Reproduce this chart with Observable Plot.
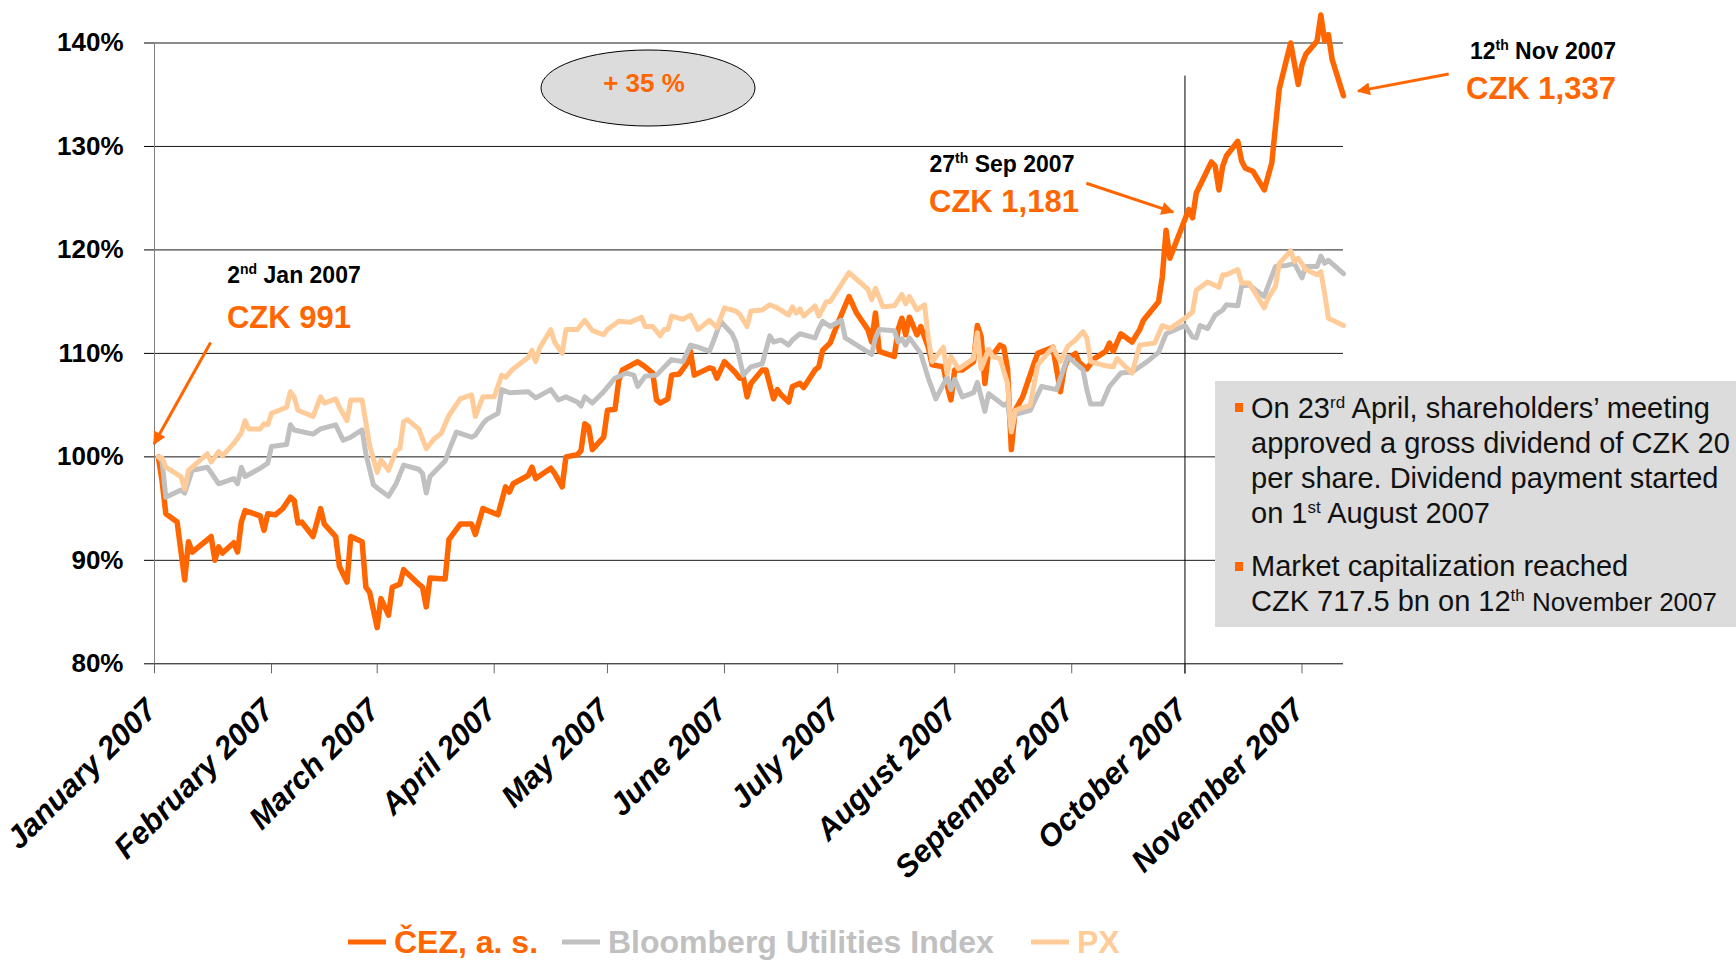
<!DOCTYPE html>
<html><head><meta charset="utf-8">
<script src="https://cdn.jsdelivr.net/npm/d3@7"></script>
<script src="https://cdn.jsdelivr.net/npm/@observablehq/plot@0.6"></script>
<style>
html,body{margin:0;padding:0;background:#fff;}
#chart{position:relative;width:1736px;height:960px;overflow:hidden;}
svg{font-family:"Liberation Sans",Arial,Helvetica,sans-serif;}
</style></head><body><div id="chart"></div>
<script>
// ---- axis categories ----
const monthTicks = ["01-01","02-01","03-01","04-01","05-01","06-01","07-01","08-01","09-01","10-01","11-01"];
const monthLabels = ["January 2007","February 2007","March 2007","April 2007","May 2007","June 2007","July 2007","August 2007","September 2007","October 2007","November 2007"];
const yTicks = [80,90,100,110,120,130,140];

// ---- ČEZ, a. s. (index, 2 Jan 2007 = 100%) ----
const cezDates = [
"01-02","01-03","01-04","01-07","01-09","01-10","01-11","01-16","01-17","01-18",
"01-19","01-22","01-23","01-24","01-25","01-29","01-30","01-31","02-02","02-04",
"02-06","02-07","02-08","02-09","02-12","02-14","02-15","02-18","02-19","02-21",
"02-22","02-25","02-26","02-27","03-01","03-02","03-04","03-05","03-07","03-08",
"03-12","03-13","03-14","03-15","03-19","03-20","03-23","03-26","03-27","03-29",
"04-02","04-04","04-05","04-06","04-10","04-11","04-12","04-16","04-17","04-19",
"04-20","04-23","04-24","04-25","04-26","04-27","04-30","05-01","05-03","05-04",
"05-05","05-09","05-11","05-13","05-14","05-15","05-17","05-18","05-20","05-22",
"05-23","05-24","05-28","05-29","05-30","06-01","06-04","06-05","06-06","06-07",
"06-08","06-11","06-12","06-14","06-15","06-16","06-18","06-19","06-21","06-22",
"06-25","06-26","06-27","06-29","07-01","07-04","07-06","07-09","07-10","07-11",
"07-12","07-16","07-17","07-18","07-19","07-20","07-22","07-23","07-25","07-26",
"07-29","07-30","07-31","08-01","08-03","08-06","08-07","08-08","08-09","08-10",
"08-11","08-13","08-14","08-15","08-16","08-17","08-19","08-22","08-23","08-27",
"08-29","08-30","08-31","09-02","09-03","09-05","09-07","09-10","09-11","09-12",
"09-14","09-17","09-19","09-20","09-24","09-25","09-26","09-27","10-02","10-03",
"10-04","10-08","10-09","10-10","10-11","10-12","10-15","10-16","10-17","10-19",
"10-22","10-24","10-26","10-29","10-31","11-01","11-02","11-05","11-06","11-07",
"11-08","11-09","11-12"];
const cezValues = [
100.0,97.7,94.5,93.7,88.1,91.8,90.8,92.3,90.0,91.3,
90.7,91.7,90.8,93.7,94.8,94.3,92.9,94.5,94.4,95.0,
96.1,95.8,93.6,93.7,92.3,95.0,93.5,92.3,89.4,87.9,
92.3,91.8,87.4,86.9,83.5,86.3,84.7,87.4,87.7,89.1,
87.7,87.4,85.5,88.3,88.2,92.0,93.5,93.5,92.5,95.0,
94.4,97.1,96.6,97.4,98.2,99.0,97.9,98.9,98.4,97.1,
100.0,100.2,100.6,103.2,102.9,100.7,101.9,104.5,104.6,107.4,
108.4,109.2,108.7,108.1,105.5,105.2,105.6,107.9,108.0,109.0,
110.2,107.9,108.6,108.5,107.6,109.2,108.1,107.6,107.7,105.8,
107.1,108.4,108.4,105.6,106.5,106.0,105.3,106.8,107.1,106.7,
108.4,108.7,110.3,111.0,112.9,115.5,113.9,112.3,111.1,113.9,
110.2,109.7,112.3,113.4,111.8,113.5,111.8,112.6,110.6,108.9,
108.7,106.9,105.5,108.4,108.4,109.2,112.7,111.6,107.1,110.3,
109.8,110.8,110.6,108.5,100.7,104.5,105.8,109.0,110.0,110.6,
106.3,108.5,109.5,110.0,109.1,108.5,109.5,110.2,111.0,110.2,
111.9,111.1,112.3,113.2,115.0,117.4,121.9,119.2,123.9,123.1,
125.5,128.5,128.1,125.8,128.1,129.1,130.5,128.6,127.9,127.6,
125.8,128.4,135.6,140.0,136.0,137.9,138.9,140.2,142.7,140.2,
140.8,138.4,134.9];

// ---- Bloomberg Utilities Index ----
const bbgDates = [
"01-02","01-03","01-04","01-08","01-09","01-11","01-15","01-18","01-22","01-23",
"01-24","01-25","01-29","01-31","02-01","02-05","02-06","02-07","02-12","02-14",
"02-18","02-20","02-22","02-25","02-26","02-28","03-01","03-04","03-06","03-08",
"03-12","03-13","03-14","03-15","03-19","03-20","03-22","03-26","03-27","03-29",
"03-30","04-02","04-03","04-05","04-10","04-12","04-16","04-18","04-20","04-23",
"04-24","04-25","04-27","04-30","05-03","05-06","05-08","05-09","05-11","05-14",
"05-18","05-21","05-23","05-25","05-28","05-29","05-31","06-03","06-04","06-06",
"06-08","06-11","06-13","06-14","06-16","06-18","06-19","06-21","06-25","06-26",
"06-27","06-29","07-02","07-03","07-10","07-11","07-12","07-16","07-17","07-18",
"07-19","07-20","07-23","07-25","07-27","07-30","07-31","08-01","08-03","08-06",
"08-07","08-09","08-10","08-14","08-15","08-16","08-17","08-21","08-24","08-28",
"08-29","08-31","09-04","09-05","09-06","09-09","09-11","09-14","09-17","09-21",
"09-24","09-26","10-01","10-03","10-04","10-05","10-07","10-09","10-11","10-12",
"10-15","10-16","10-18","10-22","10-23","10-25","10-28","10-30","11-01","11-02",
"11-05","11-06","11-07","11-08","11-12"];
const bbgValues = [
100.0,99.6,96.1,96.8,96.5,98.7,99.0,97.4,97.9,97.4,
99.0,98.1,98.9,99.4,101.0,101.2,103.1,102.6,102.2,102.7,
103.1,101.6,101.9,102.6,100.3,97.3,97.0,96.2,97.4,99.2,
98.8,98.4,96.5,98.1,99.6,100.6,102.4,101.9,102.1,103.2,
103.6,104.2,106.5,106.2,106.3,105.7,106.5,105.5,105.8,105.3,
104.9,105.8,105.2,106.3,107.6,108.1,107.9,106.8,107.8,107.9,
109.4,109.2,110.8,110.6,110.2,111.1,113.1,111.9,111.1,107.9,
108.7,109.0,111.7,111.1,111.3,110.8,111.3,111.9,111.5,112.4,
113.1,112.6,113.2,111.5,109.9,111.5,112.3,112.2,111.1,111.4,
110.8,111.5,110.0,107.6,105.6,107.7,106.5,107.5,105.8,106.2,
107.2,104.4,106.1,105.0,105.2,102.6,104.1,104.5,106.8,106.5,
107.6,109.7,108.4,106.5,105.1,105.1,106.8,108.1,108.2,109.2,
110.1,111.9,112.7,111.6,111.5,112.7,112.4,113.7,114.2,114.7,
114.6,116.5,116.6,115.5,116.5,118.4,118.5,118.7,117.3,118.4,
118.4,119.4,118.7,119.0,117.7];

// ---- PX index ----
const pxDates = [
"01-02","01-03","01-04","01-08","01-09","01-10","01-15","01-16","01-18","01-19",
"01-22","01-24","01-25","01-26","01-29","01-30","01-31","02-01","02-05","02-06",
"02-07","02-08","02-12","02-14","02-15","02-18","02-19","02-21","02-22","02-25",
"02-27","03-01","03-02","03-04","03-06","03-07","03-08","03-09","03-12","03-14",
"03-16","03-18","03-20","03-23","03-26","03-27","03-29","04-01","04-03","04-04",
"04-06","04-10","04-11","04-12","04-13","04-16","04-17","04-19","04-20","04-23",
"04-25","04-27","04-30","05-01","05-04","05-07","05-10","05-11","05-13","05-15",
"05-16","05-17","05-18","05-21","05-23","05-25","05-28","05-30","06-01","06-04",
"06-05","06-07","06-08","06-11","06-13","06-15","06-18","06-19","06-20","06-21",
"06-22","06-25","06-26","06-28","06-29","07-04","07-09","07-10","07-11","07-13",
"07-16","07-18","07-19","07-20","07-22","07-24","07-25","07-26","07-29","07-30",
"07-31","08-02","08-06","08-07","08-08","08-10","08-11","08-13","08-15","08-16",
"08-17","08-21","08-23","08-27","08-29","08-31","09-02","09-04","09-05","09-06",
"09-10","09-12","09-13","09-17","09-19","09-23","09-25","09-27","10-01","10-03",
"10-04","10-07","10-10","10-11","10-12","10-15","10-16","10-18","10-22","10-23",
"10-25","10-26","10-29","10-30","10-31","11-02","11-05","11-06","11-07","11-08",
"11-12"];
const pxValues = [
100.0,99.9,99.0,98.1,96.9,98.7,100.3,99.5,100.5,100.1,
101.3,102.3,103.5,102.7,102.7,103.2,103.1,104.2,104.8,106.3,
105.8,104.5,103.9,105.8,105.2,105.6,104.8,103.5,105.5,105.5,
101.1,98.5,99.7,98.7,100.6,100.8,103.4,103.6,102.7,100.8,
101.7,102.3,104.0,105.6,106.0,103.9,105.8,105.8,107.9,107.7,
108.5,109.6,110.3,109.2,110.5,112.3,111.1,110.0,112.3,112.3,
113.2,112.2,111.8,112.3,113.1,113.0,113.5,112.6,112.6,111.7,
112.3,112.3,113.6,113.3,113.7,112.3,113.2,112.5,114.4,114.1,
113.8,112.6,114.1,114.2,114.7,114.4,113.7,114.5,113.9,114.3,
113.6,114.6,113.6,115.0,115.0,117.8,116.2,115.2,116.3,114.5,
114.6,115.7,114.8,115.5,114.2,114.7,111.5,109.2,110.6,108.0,
109.7,108.5,109.5,112.0,108.5,110.4,109.7,109.5,107.1,102.4,
104.5,105.0,108.9,110.6,109.2,110.7,111.3,112.1,111.5,109.2,
108.8,108.7,109.5,108.1,110.8,111.0,112.7,112.4,113.4,114.0,
116.1,116.9,116.4,117.6,117.6,118.1,116.8,116.8,114.4,115.3,
116.5,118.7,119.9,118.9,119.2,118.1,117.6,117.9,115.8,113.4,
112.7];

// ---- series styling ----
const seriesNames = ["ČEZ, a. s.", "Bloomberg Utilities Index", "PX"];
const seriesColors = ["#FF6600", "#C0C0C0", "#FFCC99"];

const parse = s => new Date("2007-" + s + "T00:00:00Z");
function rows(dates, values) {
  if (dates.length !== values.length) console.error("length mismatch", dates.length, values.length);
  return dates.map((d, i) => ({date: parse(d), value: values[i]}));
}
const cez = rows(cezDates, cezValues);
const bbg = rows(bbgDates, bbgValues);
const px = rows(pxDates, pxValues);
const monthDates = monthTicks.map(parse);

const chart = Plot.plot({
  width: 1736, height: 960,
  marginLeft: 154, marginRight: 393, marginTop: 42.5, marginBottom: 296.7,
  x: {type: "utc", domain: [parse("01-01"), parse("11-12")], label: null},
  y: {domain: [80, 140], label: null},
  style: {fontFamily: '"Liberation Sans", Arial, sans-serif', background: "white", overflow: "visible", color: "black"},
  marks: [
    Plot.ruleY(yTicks.filter(v => v > 80), {stroke: "#1a1a1a", strokeWidth: 1}),
    Plot.axisY({ticks: yTicks, tickFormat: d => d + "%", tickSize: 10, tickPadding: 21,
      fontSize: 26, fontWeight: "bold", label: null}),
    Plot.ruleX([parse("01-01")], {y1: 80, y2: 140, stroke: "#808080"}),
    Plot.ruleY([80], {stroke: "#000"}),
    Plot.axisX({ticks: monthDates, tickSize: 10, tickFormat: () => "", stroke: "#666", label: null}),
    Plot.text(monthDates, {x: d => d, frameAnchor: "bottom", text: (d, i) => monthLabels[i],
      rotate: -45, textAnchor: "end", lineAnchor: "middle", dx: -3, dy: 41,
      fontSize: 31, fontWeight: "bold", fontStyle: "italic", fill: "#000"}),
    Plot.ruleX([parse("10-01")], {y1: 79.0, y2: 136.8, stroke: "#000"}),
    Plot.line(cez, {x: "date", y: "value", stroke: seriesColors[0], strokeWidth: 5.5, strokeLinejoin: "round"}),
    Plot.line(bbg, {x: "date", y: "value", stroke: seriesColors[1], strokeWidth: 5, strokeLinejoin: "round"}),
    Plot.line(px, {x: "date", y: "value", stroke: seriesColors[2], strokeWidth: 5, strokeLinejoin: "round"})
  ]
});
document.getElementById("chart").appendChild(chart);

// ---- annotations ----
const svg = d3.select(chart);
const sx = chart.scale("x"), sy = chart.scale("y");
const X = s => sx.apply(parse(s)), Y = v => sy.apply(v);

const defs = svg.append("defs");
defs.append("marker").attr("id", "ah").attr("viewBox", "0 0 10 10")
  .attr("refX", 9).attr("refY", 5).attr("markerWidth", 19).attr("markerHeight", 13)
  .attr("markerUnits", "userSpaceOnUse").attr("orient", "auto")
  .append("path").attr("d", "M0,0L10,5L0,10Z").attr("fill", "#FF6600");

const arrows = [
  {from: ["01-16", 111.0], to: ["01-01", 101.2]},
  {from: ["09-05", 126.4], to: ["09-28", 123.6]},
  {from: ["12-10", 136.95], to: ["11-16", 135.3]}
];
const ann = svg.append("g").attr("font-family", '"Liberation Sans", Arial, sans-serif');
arrows.forEach(a => {
  ann.append("line").attr("x1", X(a.from[0])).attr("y1", Y(a.from[1]))
    .attr("x2", X(a.to[0])).attr("y2", Y(a.to[1]))
    .attr("stroke", "#FF6600").attr("stroke-width", 3).attr("marker-end", "url(#ah)");
});

function txt(x, y, html, size, color, anchor = "start", weight = "bold") {
  ann.append("text").attr("x", x).attr("y", y).attr("font-size", size)
    .attr("fill", color).attr("font-weight", weight).attr("text-anchor", anchor).html(html);
}
// +35% ellipse
ann.append("ellipse").attr("cx", 648).attr("cy", 88).attr("rx", 107).attr("ry", 38)
  .attr("fill", "#DCDCDC").attr("stroke", "#000").attr("stroke-width", 1);
txt(644, 92, "+ 35 %", 26, "#FF6600", "middle");

txt(294, 283, '2<tspan dy="-9" font-size="14">nd</tspan><tspan dy="9"> Jan 2007</tspan>', 23, "#000", "middle");
txt(289, 328, "CZK 991", 31, "#FF6600", "middle");
txt(1002, 172, '27<tspan dy="-9" font-size="14">th</tspan><tspan dy="9"> Sep 2007</tspan>', 23, "#000", "middle");
txt(1004, 212, "CZK 1,181", 31, "#FF6600", "middle");
txt(1543, 59, '12<tspan dy="-9" font-size="14">th</tspan><tspan dy="9"> Nov 2007</tspan>', 23, "#000", "middle");
txt(1541, 99, "CZK 1,337", 31, "#FF6600", "middle");

// info box
ann.append("rect").attr("x", 1215).attr("y", 381).attr("width", 530).attr("height", 246).attr("fill", "#DCDCDC");
ann.append("rect").attr("x", 1235).attr("y", 403).attr("width", 8).attr("height", 9).attr("fill", "#FF6600");
ann.append("rect").attr("x", 1235).attr("y", 562).attr("width", 8).attr("height", 9).attr("fill", "#FF6600");
const boxLines = [
  [418, 'On 23<tspan dy="-10" font-size="17">rd</tspan><tspan dy="10"> April, shareholders’ meeting</tspan>'],
  [453, 'approved a gross dividend of CZK 20'],
  [488, 'per share. Dividend payment started'],
  [523, 'on 1<tspan dy="-10" font-size="17">st</tspan><tspan dy="10"> August 2007</tspan>'],
  [576, 'Market capitalization reached'],
  [611, 'CZK 717.5 bn on 12<tspan dy="-10" font-size="17">th</tspan><tspan dy="10" font-size="26"> November 2007</tspan>']
];
boxLines.forEach(([y, h]) => txt(1251, y, h, 29, "#111", "start", "normal"));

// legend
const legend = [
  {x: 348, tx: 394},
  {x: 562, tx: 608},
  {x: 1031, tx: 1077}
];
legend.forEach((l, i) => {
  ann.append("line").attr("x1", l.x).attr("x2", l.x + 38).attr("y1", 942).attr("y2", 942)
    .attr("stroke", seriesColors[i]).attr("stroke-width", 5);
  txt(l.tx, 953, seriesNames[i], 32, seriesColors[i], "start", "bold");
});
</script></body></html>
